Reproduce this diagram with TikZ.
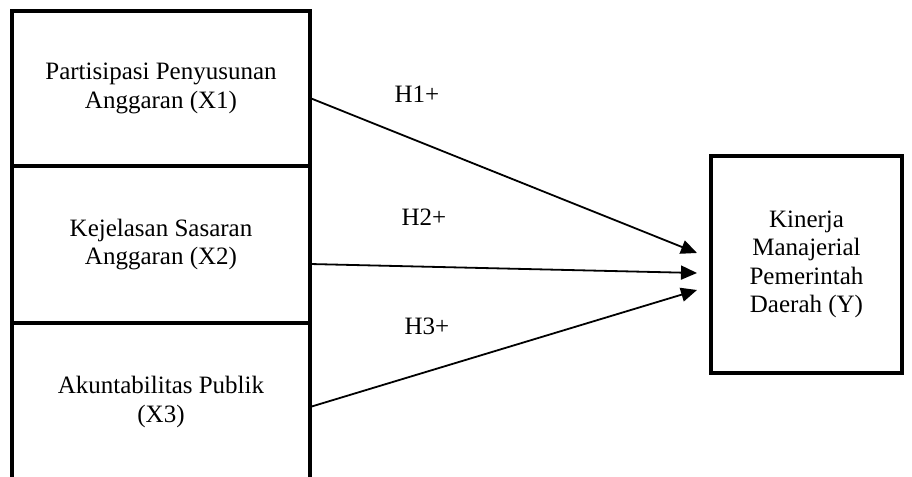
\documentclass[tikz,border=0pt]{standalone}
\usepackage{fontspec}
\setmainfont{Liberation Serif}
\usetikzlibrary{arrows.meta}
\begin{document}
\begin{tikzpicture}[x=0.5pt, y=-0.5pt, every node/.style={font=\fontsize{12.5}{14.2}\selectfont},
  varbox/.style={minimum width=149pt, align=center, inner sep=0pt, outer sep=0pt, line width=1.6pt},
  hyp/.style={-{Triangle[length=8pt,width=7pt]}, line width=0.9pt}]
  \useasboundingbox (0,0) rectangle (912,477);

  \node[varbox, draw, minimum height=77.5pt] (x1) at (161,88.5) {Partisipasi Penyusunan\\Anggaran (X1)};
  \node[varbox, draw, minimum height=78.5pt] (x2) at (161,244.5) {Kejelasan Sasaran\\Anggaran (X2)};
  \node[varbox, minimum height=79pt] (x3) at (161,402) {Akuntabilitas Publik\\(X3)};
  \draw[line width=1.6pt] (x3.south west) -- (x3.north west) -- (x3.north east) -- (x3.south east);

  \node[varbox, draw, minimum width=95.5pt, minimum height=108.5pt] (y) at (806.5,264.5) {Kinerja\\Manajerial\\Pemerintah\\Daerah (Y)};

  \draw[hyp] ([yshift=-4.75pt]x1.east) -- ([xshift=-7pt,yshift=5.75pt]y.west);
  \draw[hyp] ([yshift=-9.75pt]x2.east) -- ([xshift=-7pt,yshift=-4.25pt]y.west);
  \draw[hyp] ([yshift=-2.5pt]x3.east) -- ([xshift=-7pt,yshift=-12.75pt]y.west);

  \node (h1) at (417,94) {H1+};
  \node (h2) at (424,217) {H2+};
  \node (h3) at (427,326) {H3+};
\end{tikzpicture}
\end{document}
